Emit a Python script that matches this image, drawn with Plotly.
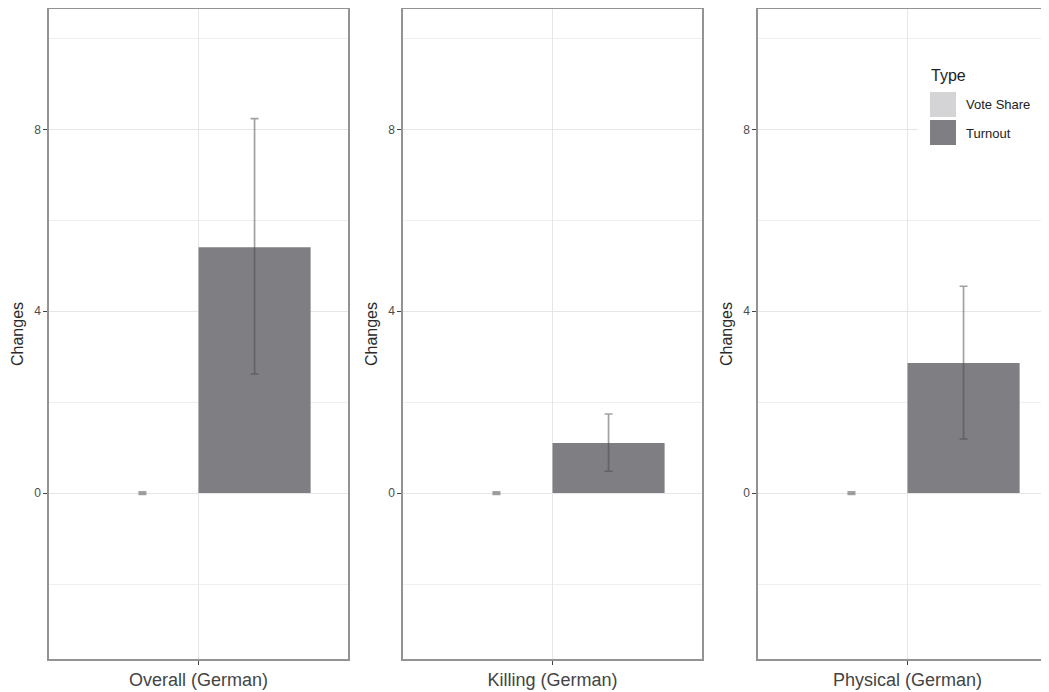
import plotly.graph_objects as go

panels = ["Overall (German)", "Killing (German)", "Physical (German)"]
types = ["Vote Share", "Turnout"]
vote_share = [0.0, 0.0, 0.0]
vote_share_hi = [0.02, 0.02, 0.02]
vote_share_lo = [-0.02, -0.02, -0.02]
turnout = [5.41, 1.10, 2.86]
turnout_hi = [8.24, 1.74, 4.55]
turnout_lo = [2.62, 0.48, 1.19]
legend_title = "Type"
colors = {"Vote Share": "#d4d4d6", "Turnout": "#7f7f83"}
err_color = "rgba(70,70,75,0.5)"

# page body has an 8px margin: figure is placed at (8, 8)
OFF = 8
W, H = 1049 - OFF, 692 - OFF
T, B = 1, 33
PH = H - T - B


def px(x):  # reference pixel x -> paper x
    return (x - OFF) / W


def py(y):  # reference pixel y -> paper y
    return (H - B - (y - OFF)) / PH


fig = go.Figure()

x_doms = [(px(49), px(348)), (px(403), px(702)), (px(758), 1.0)]
unit = 299 / 1.2
x_ranges = [[-0.6, 0.6], [-0.6, 0.6], [-0.6, -0.6 + (W - (758 - OFF)) / unit]]

for i, name in enumerate(panels):
    ax = "" if i == 0 else str(i + 1)
    series = [
        (types[0], vote_share[i], vote_share_hi[i], vote_share_lo[i]),
        (types[1], turnout[i], turnout_hi[i], turnout_lo[i]),
    ]
    for t, v, hi, lo in series:
        fig.add_trace(go.Bar(
            x=[name], y=[v], name=t, legendgroup=t, showlegend=False,
            marker=dict(color=colors[t], line=dict(width=0)),
            error_y=dict(type="data", symmetric=False, array=[hi - v],
                         arrayminus=[v - lo], color=err_color,
                         thickness=1.7 if t == types[1] else 2.4, width=4),
            xaxis="x" + ax, yaxis="y" + ax,
        ))
    common_axis = dict(showline=True, linecolor="#939393", linewidth=1.5,
                       ticks="outside", ticklen=4, tickcolor="#444",
                       zeroline=False)
    fig.layout["xaxis" + ax] = dict(
        domain=list(x_doms[i]), anchor="y" + ax, type="category",
        range=x_ranges[i], showgrid=True, gridcolor="#e6e6e6", gridwidth=1.2,
        mirror=True, tickfont=dict(size=18, color="#444444"), **common_axis)
    fig.layout["yaxis" + ax] = dict(
        domain=[0, 1], anchor="x" + ax, range=[-3.65, 10.65],
        tickvals=[0, 4, 8], ticktext=["0", "4", "8"],
        showgrid=True, gridcolor="#e6e6e6", gridwidth=1.2,
        minor=dict(tickvals=[-2, 2, 6, 10], showgrid=True,
                   gridcolor="#efefef", gridwidth=0.8, ticks=""),
        mirror=(i < 2), tickfont=dict(size=12, color="#4d4d4d"),
        title=dict(text="Changes", font=dict(size=16, color="#2a2a2a"),
                   standoff=7), **common_axis)

# legend drawn inside the third panel (ggplot-style large keys)
shapes = [dict(type="rect", xref="paper", yref="paper", layer="above",
               x0=px(918), x1=px(1046), y0=py(153), y1=py(58),
               fillcolor="white", line=dict(width=0))]
annotations = [dict(text=legend_title, xref="paper", yref="paper",
                    x=px(929), y=py(75), xanchor="left", yanchor="middle",
                    showarrow=False, font=dict(size=16, color="#222"))]
key_tops = [92, 120]
for t, ktop in zip(types, key_tops):
    shapes.append(dict(type="rect", xref="paper", yref="paper", layer="above",
                       x0=px(930), x1=px(956), y0=py(ktop + 25), y1=py(ktop),
                       fillcolor=colors[t], line=dict(width=0)))
    annotations.append(dict(text=t, xref="paper", yref="paper",
                            x=px(964), y=py(ktop + 13), xanchor="left",
                            yanchor="middle", showarrow=False,
                            font=dict(size=13, color="#222")))

fig.update_layout(
    width=W, height=H, barmode="group", bargap=0.1, bargroupgap=0,
    plot_bgcolor="white", paper_bgcolor="white",
    font=dict(family="Liberation Sans, Arial, sans-serif"),
    margin=dict(l=0, r=0, t=T, b=B),
    showlegend=False, shapes=shapes, annotations=annotations,
)

fig.write_html("out.html")
